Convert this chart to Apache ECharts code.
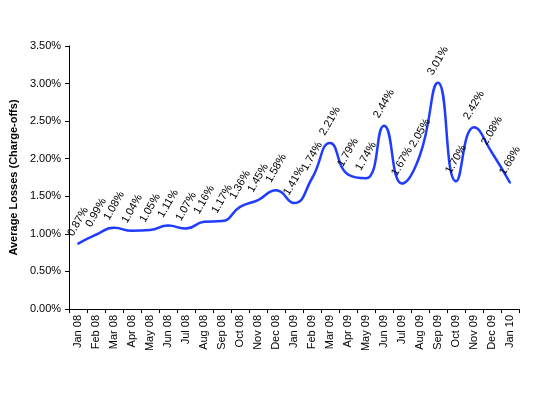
<!DOCTYPE html>
<html><head><meta charset="utf-8">
<script src="https://cdn.jsdelivr.net/npm/echarts@6/dist/echarts.min.js"></script>
<style>html,body{margin:0;padding:0;background:#fff}#c{width:540px;height:395px}</style>
</head><body><div id="c"></div>
<script>
var categories = ["Jan 08","Feb 08","Mar 08","Apr 08","May 08","Jun 08","Jul 08","Aug 08","Sep 08","Oct 08","Nov 08","Dec 08","Jan 09","Feb 09","Mar 09","Apr 09","May 09","Jun 09","Jul 09","Aug 09","Sep 09","Oct 09","Nov 09","Dec 09","Jan 10"];
var losses = [0.87,0.99,1.08,1.04,1.05,1.11,1.07,1.16,1.17,1.36,1.45,1.58,1.41,1.74,2.21,1.79,1.74,2.44,1.67,2.05,3.01,1.70,2.42,2.08,1.68];
var yTicks = [0,0.5,1,1.5,2,2.5,3,3.5];
var font = "Arial, 'Liberation Sans', sans-serif";
var chart = echarts.init(document.getElementById('c'));
chart.setOption({
  animation:false,
  grid:{left:66,right:21,top:46,bottom:86},
  xAxis:{type:'category',data:categories,boundaryGap:true,
    axisLine:{lineStyle:{color:'#000',width:1}},
    axisTick:{show:true,alignWithLabel:false,length:4,lineStyle:{color:'#000'}},
    axisLabel:{rotate:90,interval:0,color:'#000',fontSize:11,fontFamily:font,margin:6}
  },
  yAxis:{type:'value',min:yTicks[0],max:yTicks[yTicks.length-1],interval:0.5,
    name:'Average Losses (Charge-offs)',nameLocation:'middle',nameGap:44,
    nameTextStyle:{color:'#000',fontSize:11,fontWeight:'bold',fontFamily:font},
    axisLine:{show:true,lineStyle:{color:'#000',width:1}},
    axisTick:{show:true,length:4,lineStyle:{color:'#000'}},
    splitLine:{show:false},
    axisLabel:{color:'#000',fontSize:11,fontFamily:font,margin:8,formatter:function(v){return v.toFixed(2)+'%';}}
  },
  series:[{type:'line',data:losses,smooth:0.5,symbol:'circle',symbolSize:2,showSymbol:true,showAllSymbol:true,
    itemStyle:{color:'#1f3cff'},
    lineStyle:{color:'#1f3cff',width:2.5},
    label:{show:true,position:'top',distance:21,rotate:60,align:'center',verticalAlign:'middle',
      color:'#000',fontSize:11,fontFamily:font,formatter:function(p){return p.value.toFixed(2)+'%';}},
    labelLayout:{hideOverlap:false}
  }]
});
</script></body></html>
